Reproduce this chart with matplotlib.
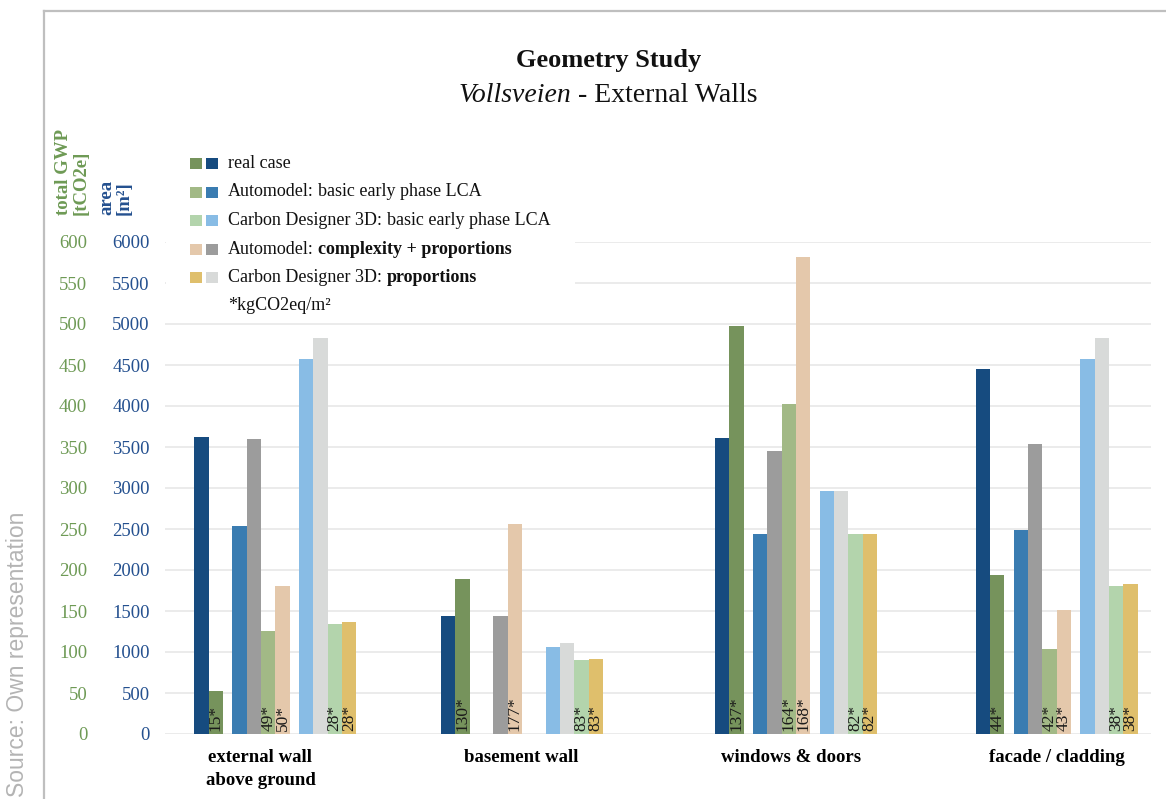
import matplotlib.pyplot as plt
from matplotlib.patches import Rectangle
from matplotlib.lines import Line2D

# categories and values
categories = ['external wall\nabove ground', 'basement wall', 'windows & doors', 'facade / cladding']

# area [m2]
area_real = [3620, 1445, 3610, 4450]
area_auto_basic = [2535, None, 2445, 2485]
area_auto_cplx = [3595, 1445, 3455, 3535]
area_cd_basic = [4570, 1060, 2960, 4570]
area_cd_prop = [4830, 1110, 2960, 4825]

# total GWP [tCO2e]
gwp_real = [53, 189, 498, 194]
gwp_auto_basic = [126, None, 403, 104]
gwp_auto_cplx = [181, 256, 582, 151]
gwp_cd_basic = [134, 90, 244, 181]
gwp_cd_prop = [136, 92, 244, 183]

# kgCO2eq/m2 printed inside the GWP bars
kg_real = [15, 130, 137, 44]
kg_auto_basic = [49, None, 164, 42]
kg_auto_cplx = [50, 177, 168, 43]
kg_cd_basic = [28, 83, 82, 38]
kg_cd_prop = [28, 83, 82, 38]

legend_rows = ['real case',
               ('Automodel: ', 'basic early phase LCA', False),
               ('Carbon Designer 3D: ', 'basic early phase LCA', False),
               ('Automodel: ', 'complexity + proportions', True),
               ('Carbon Designer 3D: ', 'proportions', True)]

# colours
C_REAL_A, C_REAL_G = '#164B7F', '#76935C'
C_AB_A, C_AB_G = '#3A7CB1', '#A2B986'
C_CB_A, C_CB_G = '#88BCE5', '#B3D4AC'
C_AC_A, C_AC_G = '#9C9C9C', '#E4C8AB'
C_CP_A, C_CP_G = '#D8DAD9', '#DFBF6C'
GREEN_TXT = '#6E9A55'
BLUE_TXT = '#24508F'

SERIF = 'Liberation Serif'
plt.rcParams['font.family'] = SERIF

W, H = 1166, 799
fig = plt.figure(figsize=(W / 100, H / 100), dpi=100)


def fx(px):
    return px / W


def fy(py):
    return 1 - py / H


# frame around the figure (only top and left are visible in the crop)
fig.add_artist(Line2D([fx(43.5), fx(43.5)], [fy(10.5), fy(805)], transform=fig.transFigure,
                      color='#BFBFBF', lw=1.6))
fig.add_artist(Line2D([fx(43.5), fx(1170)], [fy(10.5), fy(10.5)], transform=fig.transFigure,
                      color='#BFBFBF', lw=1.6))

ax = fig.add_axes([fx(165), fy(734), (1151 - 165) / W, (734 - 242) / H])
ax.set_xlim(165, 1151)
ax.set_ylim(0, 6000)
ax2 = ax.twinx()
ax2.set_ylim(0, 600)

for a in (ax, ax2):
    for s in a.spines.values():
        s.set_visible(False)

ax.set_yticks(range(0, 6001, 500))
ax.yaxis.grid(True, color='#E8E8E8', lw=1.2, zorder=0)
ax.set_axisbelow(True)
ax.tick_params(axis='y', length=0, pad=11, labelsize=13.5, labelcolor=BLUE_TXT)
ax2.set_yticks(range(0, 601, 50))
ax2.yaxis.set_ticks_position('left')
ax2.tick_params(axis='y', length=0, pad=56, labelsize=13.5, labelcolor=GREEN_TXT)

# layout of the bars within a category (pixel units of the x axis)
cat_start = [194.3, 441, 715, 975.7]
label_x = [260.5, 521, 791.5, 1057]
BW = 14.35
GROUP_OFF = [0, 38, 104.5]

groups = [
    [(area_real, C_REAL_A)],
    [(area_auto_basic, C_AB_A), (area_auto_cplx, C_AC_A)],
    [(area_cd_basic, C_CB_A), (area_cd_prop, C_CP_A)],
]
gwp_groups = [
    [(gwp_real, kg_real, C_REAL_G)],
    [(gwp_auto_basic, kg_auto_basic, C_AB_G), (gwp_auto_cplx, kg_auto_cplx, C_AC_G)],
    [(gwp_cd_basic, kg_cd_basic, C_CB_G), (gwp_cd_prop, kg_cd_prop, C_CP_G)],
]

for i in range(len(categories)):
    for g in range(3):
        x0 = cat_start[i] + GROUP_OFF[g]
        # area bars keep fixed slots
        for k, (vals, col) in enumerate(groups[g]):
            if vals[i] is not None:
                ax.bar(x0 + k * BW, vals[i], width=BW, align='edge', color=col, lw=0, zorder=3)
        # GWP bars are packed after the area slots
        slot = len(groups[g])
        for vals, kg, col in gwp_groups[g]:
            if vals[i] is None:
                continue
            xb = x0 + slot * BW
            ax2.bar(xb, vals[i], width=BW, align='edge', color=col, lw=0, zorder=3)
            ax2.annotate(f'{kg[i]}*', (xb + BW / 2, 0), xytext=(0, 2), textcoords='offset points',
                         rotation=90, ha='center', va='bottom', fontsize=12.5, color='#1A1A1A')
            slot += 1

ax.set_xticks(label_x)
ax.set_xticklabels(categories, fontweight='bold', fontsize=13.5, linespacing=1.45)
ax.tick_params(axis='x', length=0, pad=11)

# axis titles
fig.text(fx(63), fy(215), 'total GWP', rotation=90, ha='center', va='bottom',
         fontsize=13.5, fontweight='bold', color=GREEN_TXT)
fig.text(fx(81), fy(215), '[tCO2e]', rotation=90, ha='center', va='bottom',
         fontsize=13.5, fontweight='bold', color=GREEN_TXT)
fig.text(fx(107), fy(215), 'area', rotation=90, ha='center', va='bottom',
         fontsize=13.5, fontweight='bold', color=BLUE_TXT)
fig.text(fx(124), fy(215), '[m²]', rotation=90, ha='center', va='bottom',
         fontsize=13.5, fontweight='bold', color=BLUE_TXT)

# source note
fig.text(fx(18), fy(797), 'Source: Own representation', rotation=90, ha='center', va='bottom',
         fontsize=16.5, color='#B4B4B4', family='Liberation Sans')

renderer = fig.canvas.get_renderer()


def text_parts(x_px, y_px, parts, size, center=False):
    # draw several text pieces in a row, measuring each to place the next
    arts = []
    for s, kw in parts:
        arts.append(fig.text(0, fy(y_px), s, fontsize=size, va='center', color='#111111', **kw))
    widths = [t.get_window_extent(renderer).width for t in arts]
    gap = size * 0.35
    total = sum(widths) + gap * (len(arts) - 1)
    x = x_px - total / 2 if center else x_px
    for t, w in zip(arts, widths):
        t.set_x(fx(x))
        x += w + gap


# title
text_parts(609, 61, [('Geometry Study', {'fontweight': 'bold'})], 19, center=True)
text_parts(608, 95, [('Vollsveien', {'style': 'italic'}), ('- External Walls', {})], 20, center=True)

# legend (white box hides the gridlines behind it)
fig.add_artist(Rectangle((fx(166), fy(318)), (575 - 166) / W, (318 - 150) / H,
                         transform=fig.transFigure, facecolor='white', edgecolor='none', zorder=1))
swatches = [(C_REAL_G, C_REAL_A), (C_AB_G, C_AB_A), (C_CB_G, C_CB_A), (C_AC_G, C_AC_A), (C_CP_G, C_CP_A)]
for r, row in enumerate(legend_rows):
    yc = 163.5 + 28.5 * r
    for xs, col in zip((189.5, 206), swatches[r]):
        fig.add_artist(Rectangle((fx(xs), fy(yc + 5.5)), 12 / W, 11 / H,
                                 transform=fig.transFigure, facecolor=col, edgecolor='none', zorder=2))
    if isinstance(row, str):
        text_parts(228, yc, [(row, {})], 13)
    else:
        lead, rest, bold = row
        text_parts(228, yc, [(lead.strip(), {}), (rest, {'fontweight': 'bold' if bold else 'normal'})], 13)
text_parts(228, 306, [('*kgCO2eq/m²', {})], 13)

fig.savefig('out.png', dpi=100)
